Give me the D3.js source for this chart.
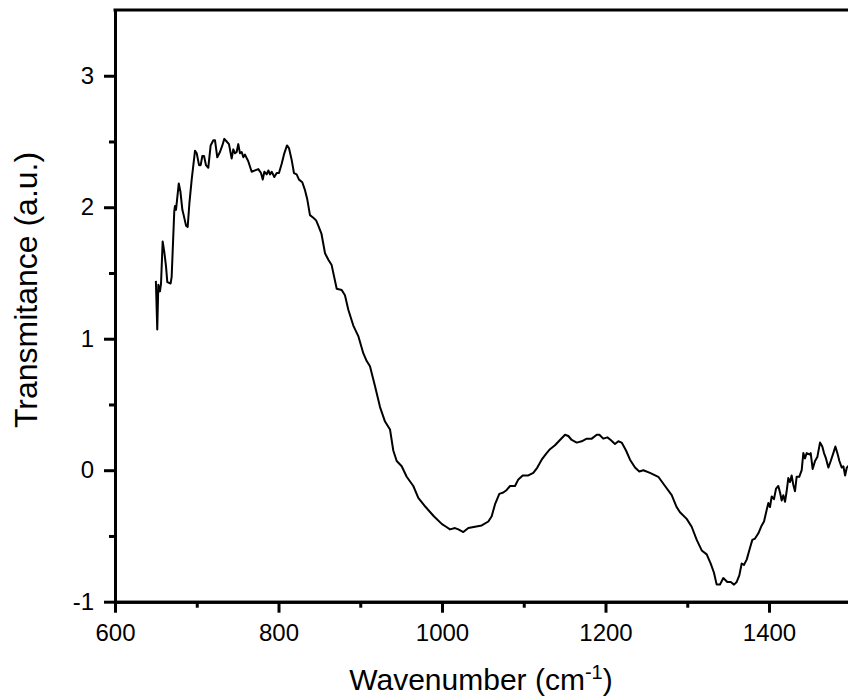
<!DOCTYPE html>
<html>
<head>
<meta charset="utf-8">
<script src="https://cdn.jsdelivr.net/npm/d3@7"></script>
<style>
  html, body { margin: 0; padding: 0; background: #fff; }
  svg { display: block; }
  text { font-family: "Liberation Sans", Arial, sans-serif; fill: #000; }
</style>
</head>
<body>
<svg id="chart" width="848" height="700"></svg>
<script>
// FTIR spectrum: wavenumber (cm^-1) against transmittance (a.u.)
const wavenumber = [
  650, 651.7, 653, 655, 656.3, 658.3, 660.3, 662.4, 664, 668, 669.3, 672.5, 673.4, 674.6,
  678, 680, 682.4, 684, 686.9, 688.9, 691, 693.8, 697.9, 700, 702.8, 704.8, 706.8, 708.9,
  711.3, 714.1, 717, 720.3, 722.3, 725.1, 728.4, 731.3, 733.7, 736.6, 739.4, 742.7, 744.7,
  746.8, 748.8, 750.8, 752.9, 755, 757, 759, 763, 767.2, 771.3, 775.3, 778.6, 780.7, 782.7,
  785.6, 787.6, 789.6, 791.7, 794.9, 797.8, 800.6, 803.9, 807.1, 810.4, 812.8, 816.1, 818.9,
  822.2, 825.1, 829.1, 832.4, 835.2, 838.5, 842.6, 846, 848.7, 852.5, 856.9, 861, 865,
  871.2, 877.3, 881.3, 885.4, 891.5, 897.6, 903.7, 907.9, 911.9, 918, 924.2, 930.3, 936.4,
  940.4, 944.6, 950.7, 956.8, 964.9, 971, 980, 990, 1000, 1005, 1009.8, 1015.9, 1020,
  1026.1, 1032.2, 1040.4, 1048.6, 1056.7, 1060.8, 1064.8, 1070.1, 1075, 1079.2, 1083.2,
  1089.3, 1093.4, 1098.7, 1105.6, 1111.7, 1116.6, 1121.9, 1128, 1132.1, 1138.2, 1144.3,
  1150.5, 1154.5, 1158.7, 1164.8, 1170.9, 1177, 1183.2, 1189.3, 1192.5, 1197.3, 1202.3,
  1206.4, 1211.6, 1215.7, 1219.8, 1225.1, 1230, 1236.1, 1241.3, 1246.3, 1254.4, 1264.6,
  1272.8, 1281, 1287, 1291.1, 1299.3, 1305.4, 1311.6, 1317.7, 1323.8, 1328.7, 1332.7,
  1336, 1340, 1344.1, 1349, 1353.2, 1357.2, 1360.5, 1363.7, 1366.6, 1369.4, 1372.7,
  1376.8, 1379.6, 1382.9, 1387, 1391.1, 1393.9, 1397.2, 1399.2, 1401.2, 1403.3, 1406.1,
  1408.6, 1411.4, 1413.5, 1415.5, 1417.5, 1419.6, 1421.6, 1423.6, 1425.7, 1427.7, 1429.7,
  1431.8, 1433.8, 1437, 1440, 1442, 1444, 1446.1, 1449.3, 1451, 1453.4, 1456.3, 1459.1,
  1462.4, 1465.2, 1467.3, 1469.7, 1472.6, 1475.5, 1478.7, 1481.2, 1483.6, 1486.1, 1489,
  1491, 1493.1, 1495.2, 1496.8, 1500
];
const transmittance = [
  1.44, 1.07, 1.41, 1.36, 1.42, 1.74, 1.66, 1.55, 1.43, 1.42, 1.47, 1.97, 2.01, 1.98,
  2.18, 2.12, 1.98, 1.94, 1.86, 1.85, 2.03, 2.21, 2.43, 2.41, 2.32, 2.32, 2.39, 2.39,
  2.32, 2.30, 2.47, 2.51, 2.51, 2.38, 2.42, 2.47, 2.52, 2.50, 2.48, 2.37, 2.44,
  2.41, 2.42, 2.48, 2.41, 2.42, 2.38, 2.40, 2.35, 2.27, 2.28, 2.29, 2.26, 2.21, 2.27,
  2.25, 2.28, 2.25, 2.27, 2.23, 2.26, 2.26, 2.33, 2.41, 2.47, 2.45, 2.36, 2.26,
  2.25, 2.21, 2.19, 2.13, 2.06, 1.94, 1.92, 1.90, 1.86, 1.80, 1.65, 1.60, 1.56,
  1.38, 1.37, 1.33, 1.22, 1.10, 1.02, 0.89, 0.83, 0.79, 0.64, 0.48, 0.37, 0.31,
  0.15, 0.07, 0.03, -0.05, -0.12, -0.21, -0.28, -0.35, -0.41, -0.43, -0.45, -0.44, -0.45,
  -0.47, -0.44, -0.43, -0.42, -0.39, -0.35, -0.26, -0.18, -0.17, -0.15, -0.12,
  -0.12, -0.07, -0.04, -0.04, -0.02, 0.02, 0.08, 0.13, 0.16, 0.19, 0.23,
  0.27, 0.26, 0.23, 0.21, 0.22, 0.24, 0.24, 0.27, 0.27, 0.24, 0.25,
  0.23, 0.20, 0.22, 0.21, 0.15, 0.08, 0.02, -0.01, 0.00, -0.02, -0.05,
  -0.12, -0.19, -0.28, -0.32, -0.37, -0.43, -0.53, -0.61, -0.64, -0.71, -0.78,
  -0.87, -0.87, -0.82, -0.85, -0.85, -0.87, -0.85, -0.80, -0.71, -0.72, -0.68,
  -0.59, -0.53, -0.52, -0.48, -0.42, -0.39, -0.30, -0.25, -0.28, -0.20, -0.22,
  -0.14, -0.12, -0.17, -0.23, -0.19, -0.24, -0.16, -0.06, -0.09, -0.04, -0.11,
  -0.16, -0.05, -0.05, 0.00, 0.13, 0.09, 0.13, 0.12, 0.13, 0.01, 0.07, 0.10,
  0.21, 0.18, 0.13, 0.09, 0.02, 0.07, 0.13, 0.18, 0.13, 0.07, 0.02,
  0.03, -0.04, 0.02, 0.03, 0.05
];

const xMajorTicks = [600, 800, 1000, 1200, 1400];
const xMinorTicks = [700, 900, 1100, 1300, 1500];
const yMajorTicks = [-1, 0, 1, 2, 3];
const yMinorTicks = [-0.5, 0.5, 1.5, 2.5];

const xTitle = "Wavenumber (cm";
const xTitleSup = "-1";
const yTitle = "Transmitance (a.u.)";

const svg = d3.select("#chart");
const plotLeft = 115, plotTop = 10, plotBottom = 601.7;
const plotRight = plotLeft + 900 * 0.8175; // frame runs a little past the canvas edge

const x = d3.scaleLinear().domain([600, 1500]).range([plotLeft, plotRight]);
const y = d3.scaleLinear().domain([-1, 3.5]).range([plotBottom, plotTop]);

const fmt = d => String(d);

// bottom axis: major and minor ticks
const gxMinor = svg.append("g").attr("transform", `translate(0,${plotBottom})`)
  .call(d3.axisBottom(x).tickValues(xMinorTicks).tickSize(6).tickSizeOuter(0).tickFormat(""));
const gx = svg.append("g").attr("transform", `translate(0,${plotBottom})`)
  .call(d3.axisBottom(x).tickValues(xMajorTicks)
    .tickSize(11).tickSizeOuter(0).tickPadding(11).tickFormat(fmt));

// left axis: major and minor ticks
const gyMinor = svg.append("g").attr("transform", `translate(${plotLeft},0)`)
  .call(d3.axisLeft(y).tickValues(yMinorTicks).tickSize(6).tickSizeOuter(0).tickFormat(""));
const gy = svg.append("g").attr("transform", `translate(${plotLeft},0)`)
  .call(d3.axisLeft(y).tickValues(yMajorTicks).tickSize(11).tickSizeOuter(0).tickPadding(10).tickFormat(fmt));

[gxMinor, gx, gyMinor, gy].forEach(g => {
  g.selectAll(".domain").attr("stroke", "#000").attr("stroke-width", 3);
  g.selectAll(".tick line").attr("stroke", "#000").attr("stroke-width", 3);
  g.selectAll(".tick text").attr("font-size", 24).attr("fill", "#000")
    .style("font-family", '"Liberation Sans", Arial, sans-serif');
});

// top frame line
svg.append("line")
  .attr("x1", plotLeft - 1.5).attr("x2", plotRight)
  .attr("y1", plotTop).attr("y2", plotTop)
  .attr("stroke", "#000").attr("stroke-width", 3);

// spectrum trace
const points = wavenumber.map((w, i) => [w, transmittance[i]]);
svg.append("path")
  .datum(points)
  .attr("fill", "none")
  .attr("stroke", "#000")
  .attr("stroke-width", 2)
  .attr("stroke-linejoin", "round")
  .attr("d", d3.line().x(d => x(d[0])).y(d => y(d[1])));

// axis titles
const xt = svg.append("text")
  .attr("x", 481).attr("y", 690)
  .attr("text-anchor", "middle")
  .attr("font-size", 30);
xt.append("tspan").text(xTitle);
xt.append("tspan").attr("font-size", 20).attr("dy", -11).text(xTitleSup);
xt.append("tspan").attr("dy", 11).text(")");

svg.append("text")
  .attr("transform", "translate(37,290) rotate(-90)")
  .attr("text-anchor", "middle")
  .attr("font-size", 32)
  .text(yTitle);
</script>
</body>
</html>
